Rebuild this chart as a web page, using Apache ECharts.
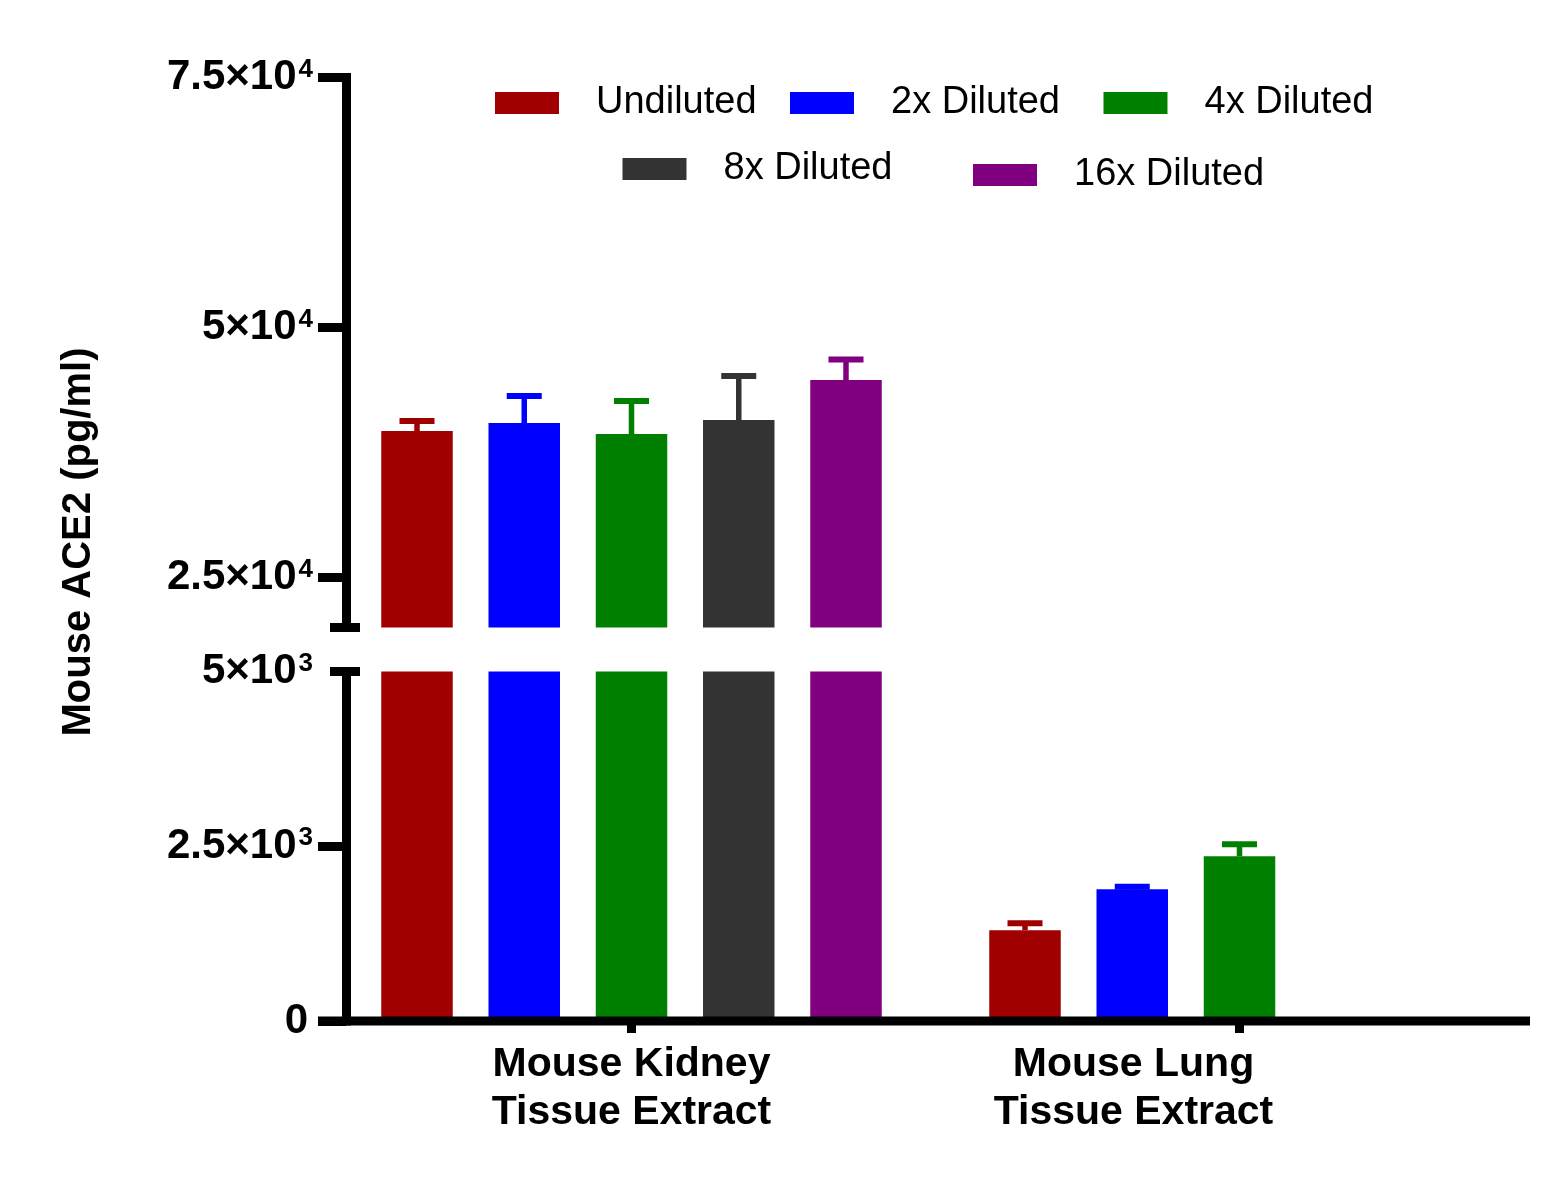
<!DOCTYPE html>
<html><head><meta charset="utf-8">
<script src="https://cdn.jsdelivr.net/npm/echarts@6/dist/echarts.min.js"></script>
<style>html,body{margin:0;padding:0;background:#fff}#c{width:1556px;height:1177px}</style>
</head><body><div id="c"></div>
<script>
// ---- data ----
const categories = ['Mouse Kidney\nTissue Extract', 'Mouse Lung\nTissue Extract'];
const seriesNames = ['Undiluted', '2x Diluted', '4x Diluted', '8x Diluted', '16x Diluted'];
const undilutedMean = [39650, 1300];
const undilutedSD   = [1000, 100];
const dil2xMean = [40450, 1886];
const dil2xSD   = [2700, 35];
const dil4xMean = [39350, 2357];
const dil4xSD   = [3300, 172];
const dil8xMean = [40750, null];
const dil8xSD   = [4400, null];
const dil16xMean = [44750, null];
const dil16xSD   = [2050, null];
const upperTicks = [25000, 50000, 75000];
const upperTickLabels = ['2.5×10^4', '5×10^4', '7.5×10^4'];
const lowerTicks = [0, 2500, 5000];
const lowerTickLabels = ['0', '2.5×10^3', '5×10^3'];
const yAxisTitle = 'Mouse ACE2 (pg/ml)';

// ---- style / layout ----
const colors = ['#a00000', '#0000ff', '#008000', '#333333', '#800080'];
const F = '"Liberation Sans", Arial, sans-serif';
const means = [undilutedMean, dil2xMean, dil4xMean, dil8xMean, dil16xMean];
const sds = [undilutedSD, dil2xSD, dil4xSD, dil8xSD, dil16xSD];
const BAR_W = 71.5, BAR_STEP = BAR_W * 1.5;
const GRID_L = 327.5, GRID_R = 12.5, AXIS_X = 346;
const UP_TOP = 77.5, UP_BOT = 627.5, LO_TOP = 671.5, LO_BOT = 1021;
const legendPos = [[495, 84], [790, 84], [1103.5, 84], [622.5, 150], [973, 156]];

function tickFmt(ticks, labels) {
  return function (v) {
    const i = ticks.indexOf(v);
    if (i < 0) return '';
    const parts = labels[i].split('^');
    if (parts.length < 2) return '{b|' + parts[0] + '}{z|}';
    return '{b|' + parts[0] + '}{s|' + parts[1] + '}';
  };
}
const rich = {
  b: {fontSize: 42, fontWeight: 'bold', fontFamily: F, color: '#000', lineHeight: 42},
  s: {fontSize: 26, fontWeight: 'bold', fontFamily: F, color: '#000', lineHeight: 30, verticalAlign: 'top', padding: [0, 0, 0, 2]},
  z: {width: 5}
};

function yAxisCfg(grid, min, max, tickVals, labelVals, labels) {
  return {
    type: 'value', gridIndex: grid, min: min, max: max, offset: GRID_L - AXIS_X,
    axisLine: {show: true, lineStyle: {color: '#000', width: 9, cap: 'square'}},
    axisTick: {show: true, length: 28, customValues: tickVals, lineStyle: {color: '#000', width: 9}},
    axisLabel: {customValues: labelVals, margin: 33, formatter: tickFmt(labelVals, labels), rich: rich},
    splitLine: {show: false}
  };
}

const series = [];
[0, 1].forEach(function (g) {
  seriesNames.forEach(function (name, i) {
    series.push({
      type: 'bar', name: name, xAxisIndex: g, yAxisIndex: g,
      data: means[i], barWidth: BAR_W, barGap: '50%', clip: true,
      itemStyle: {color: colors[i]}, emphasis: {disabled: true}
    });
  });
});
[0, 1].forEach(function (g) {
  seriesNames.forEach(function (name, i) {
    const d = [];
    means[i].forEach(function (m, k) { if (m != null) d.push([k, m, m + sds[i][k]]); });
    series.push({
      type: 'custom', name: name, xAxisIndex: g, yAxisIndex: g, clip: true, z: 3,
      encode: {x: 0, y: [1, 2]}, data: d,
      renderItem: function (params, api) {
        const cat = api.value(0), m = api.value(1), u = api.value(2);
        const p1 = api.coord([cat, m]), p2 = api.coord([cat, u]);
        const x = p1[0] + (i - 2) * BAR_STEP;
        return {type: 'group', children: [
          {type: 'line', shape: {x1: x, y1: p1[1], x2: x, y2: p2[1]}, style: {stroke: colors[i], lineWidth: 5.5}},
          {type: 'line', shape: {x1: x - 17.5, y1: p2[1], x2: x + 17.5, y2: p2[1]}, style: {stroke: colors[i], lineWidth: 6}}
        ]};
      }
    });
  });
});

const legends = seriesNames.map(function (name, i) {
  return {
    data: [name], left: legendPos[i][0], top: legendPos[i][1], padding: 0,
    itemWidth: 64, itemHeight: 22, icon: 'rect', selectedMode: false,
    textStyle: {fontFamily: F, fontSize: 38, color: '#000', lineHeight: 22, padding: [0, 0, 0, 32]}
  };
});

const xLabelRich = {
  k: {fontSize: 41, fontWeight: 'bold', fontFamily: F, color: '#000', lineHeight: 48},
  l: {fontSize: 41, fontWeight: 'bold', fontFamily: F, color: '#000', lineHeight: 48, padding: [0, 212, 0, 0]}
};

const option = {
  backgroundColor: '#fff',
  animation: false,
  legend: legends,
  grid: [
    {left: GRID_L, right: GRID_R, top: UP_TOP, height: UP_BOT - UP_TOP},
    {left: GRID_L, right: GRID_R, top: LO_TOP, height: LO_BOT - LO_TOP}
  ],
  xAxis: [
    {type: 'category', gridIndex: 0, data: categories, show: false},
    {type: 'category', gridIndex: 1, data: categories,
     axisLine: {show: false},
     axisTick: {show: true, alignWithLabel: true, length: 12, lineStyle: {color: '#000', width: 9}},
     axisLabel: {interval: 0, margin: 20,
       formatter: function (v, idx) {
         const key = idx === 0 ? 'k' : 'l';
         return v.split('\n').map(function (s) { return '{' + key + '|' + s + '}'; }).join('\n');
       },
       rich: xLabelRich}}
  ],
  yAxis: [
    yAxisCfg(0, 20000, 75000, upperTicks, upperTicks, upperTickLabels),
    yAxisCfg(1, 0, 5000, [0, 2500], lowerTicks, lowerTickLabels)
  ],
  graphic: [
    {type: 'line', shape: {x1: 318, y1: LO_BOT, x2: 1530, y2: LO_BOT}, style: {stroke: '#000', lineWidth: 9}, z: 10},
    {type: 'line', shape: {x1: AXIS_X - 16, y1: UP_BOT, x2: AXIS_X + 14, y2: UP_BOT}, style: {stroke: '#000', lineWidth: 9}, z: 10},
    {type: 'line', shape: {x1: AXIS_X - 16, y1: LO_TOP, x2: AXIS_X + 14, y2: LO_TOP}, style: {stroke: '#000', lineWidth: 9}, z: 10},
    {type: 'text', x: 79, y: 542, rotation: Math.PI / 2,
     style: {text: yAxisTitle, fontSize: 40, fontWeight: 'bold', fontFamily: F, fill: '#000', align: 'center', verticalAlign: 'middle'}}
  ],
  series: series
};
const chart = echarts.init(document.getElementById('c'), null, {renderer: 'canvas'});
chart.setOption(option);
</script>
</body></html>
